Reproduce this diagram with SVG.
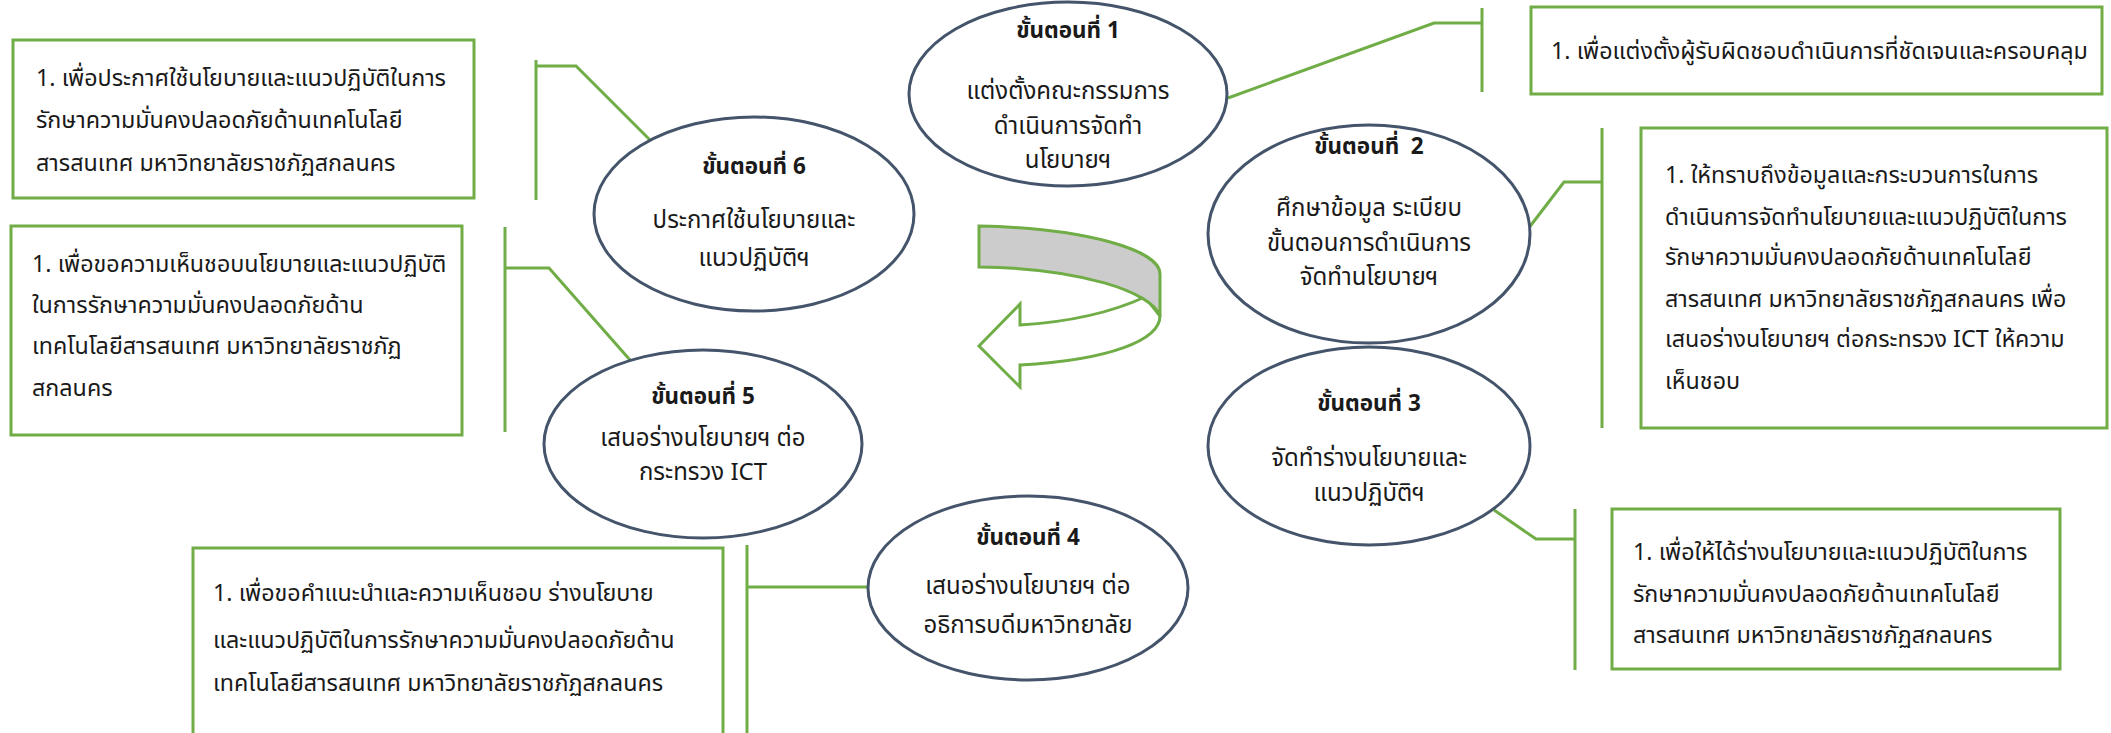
<svg xmlns="http://www.w3.org/2000/svg" width="2111" height="733" viewBox="0 0 2111 733">
<style>
.box{fill:#fff;stroke:#70AD47;stroke-width:3}
.con{fill:none;stroke:#70AD47;stroke-width:3}
.ell{fill:#fff;stroke:#44546A;stroke-width:3}
.t{font-family:"Noto Sans Thai","Noto Sans","DejaVu Sans",sans-serif;font-size:23.3px;fill:#1a1a1a}
.c{text-anchor:middle;font-size:24px}
.b{font-weight:bold;font-size:22.5px}
</style>
<rect width="2111" height="733" fill="#fff"/>
<g id="connectors">
<polyline class="con" points="1228,98 1434,23 1482,23"/>
<line class="con" x1="1482" y1="8" x2="1482" y2="92"/>
<polyline class="con" points="1528,229 1564,182 1602,182"/>
<line class="con" x1="1602" y1="128" x2="1602" y2="428"/>
<polyline class="con" points="1494,510 1536,539 1575,539"/>
<line class="con" x1="1575" y1="509" x2="1575" y2="670"/>
<line class="con" x1="868" y1="587" x2="747" y2="587"/>
<line class="con" x1="747" y1="545" x2="747" y2="733"/>
<polyline class="con" points="630,360 549,268 505,268"/>
<line class="con" x1="505" y1="227" x2="505" y2="432"/>
<polyline class="con" points="650,140 576,66 536,66"/>
<line class="con" x1="536" y1="60" x2="536" y2="200"/>
</g>
<g id="cycle-arrow">
<path d="M1145,297 C1110,313 1070,322 1020,325 L1020,304 L979,346 L1020,387 L1020,365 C1110,360 1160,340 1160,316 Z" fill="#fff" stroke="#70AD47" stroke-width="3" stroke-linejoin="miter"/>
<path d="M979,226 C1085,228 1160,250 1160,274 L1160,316 C1152,292 1080,268 979,267 Z" fill="#CCCCCC" stroke="#70AD47" stroke-width="3"/>
</g>
<g id="step1">
<ellipse class="ell" cx="1068" cy="94" rx="159" ry="92"/>
<text class="t c b" x="1068" y="38">ขั้นตอนที่ 1</text>
<text class="t c" x="1068" y="99">แต่งตั้งคณะกรรมการ</text>
<text class="t c" x="1068" y="134">ดำเนินการจัดทำ</text>
<text class="t c" x="1068" y="168">นโยบายฯ</text>
</g>
<g id="step2">
<ellipse class="ell" cx="1369" cy="234" rx="161" ry="109"/>
<text class="t c b" x="1369" y="154" xml:space="preserve">ขั้นตอนที่  2</text>
<text class="t c" x="1369" y="216">ศึกษาข้อมูล ระเบียบ</text>
<text class="t c" x="1369" y="251">ขั้นตอนการดำเนินการ</text>
<text class="t c" x="1369" y="285">จัดทำนโยบายฯ</text>
</g>
<g id="step3">
<ellipse class="ell" cx="1369" cy="446" rx="161" ry="99"/>
<text class="t c b" x="1369" y="411">ขั้นตอนที่ 3</text>
<text class="t c" x="1369" y="466">จัดทำร่างนโยบายและ</text>
<text class="t c" x="1369" y="501">แนวปฏิบัติฯ</text>
</g>
<g id="step4">
<ellipse class="ell" cx="1028" cy="588" rx="160" ry="92"/>
<text class="t c b" x="1028" y="545">ขั้นตอนที่ 4</text>
<text class="t c" x="1028" y="594">เสนอร่างนโยบายฯ ต่อ</text>
<text class="t c" x="1028" y="633">อธิการบดีมหาวิทยาลัย</text>
</g>
<g id="step5">
<ellipse class="ell" cx="703" cy="444" rx="159" ry="94"/>
<text class="t c b" x="703" y="404">ขั้นตอนที่ 5</text>
<text class="t c" x="703" y="446">เสนอร่างนโยบายฯ ต่อ</text>
<text class="t c" x="703" y="480">กระทรวง ICT</text>
</g>
<g id="step6">
<ellipse class="ell" cx="754" cy="214" rx="160" ry="97"/>
<text class="t c b" x="754" y="174">ขั้นตอนที่ 6</text>
<text class="t c" x="754" y="228">ประกาศใช้นโยบายและ</text>
<text class="t c" x="754" y="266">แนวปฏิบัติฯ</text>
</g>
<g id="note1">
<rect class="box" x="1531" y="7" width="571" height="87"/>
<text class="t" x="1551" y="59">1. เพื่อแต่งตั้งผู้รับผิดชอบดำเนินการที่ชัดเจนและครอบคลุม</text>
</g>
<g id="note2">
<rect class="box" x="1641" y="128" width="466" height="300"/>
<text class="t" x="1665" y="183">1. ให้ทราบถึงข้อมูลและกระบวนการในการ</text>
<text class="t" x="1665" y="225">ดำเนินการจัดทำนโยบายและแนวปฏิบัติในการ</text>
<text class="t" x="1665" y="265">รักษาความมั่นคงปลอดภัยด้านเทคโนโลยี</text>
<text class="t" x="1665" y="307">สารสนเทศ มหาวิทยาลัยราชภัฏสกลนคร เพื่อ</text>
<text class="t" x="1665" y="347">เสนอร่างนโยบายฯ ต่อกระทรวง ICT ให้ความ</text>
<text class="t" x="1665" y="389">เห็นชอบ</text>
</g>
<g id="note3">
<rect class="box" x="1612" y="509" width="448" height="160"/>
<text class="t" x="1633" y="560">1. เพื่อให้ได้ร่างนโยบายและแนวปฏิบัติในการ</text>
<text class="t" x="1633" y="602">รักษาความมั่นคงปลอดภัยด้านเทคโนโลยี</text>
<text class="t" x="1633" y="643">สารสนเทศ มหาวิทยาลัยราชภัฏสกลนคร</text>
</g>
<g id="note4">
<rect class="box" x="193" y="548" width="530" height="200"/>
<text class="t" x="213" y="601">1. เพื่อขอคำแนะนำและความเห็นชอบ ร่างนโยบาย</text>
<text class="t" x="213" y="648">และแนวปฏิบัติในการรักษาความมั่นคงปลอดภัยด้าน</text>
<text class="t" x="213" y="691">เทคโนโลยีสารสนเทศ มหาวิทยาลัยราชภัฏสกลนคร</text>
</g>
<g id="note5">
<rect class="box" x="11" y="226" width="451" height="209"/>
<text class="t" x="32" y="272">1. เพื่อขอความเห็นชอบนโยบายและแนวปฏิบัติ</text>
<text class="t" x="32" y="313">ในการรักษาความมั่นคงปลอดภัยด้าน</text>
<text class="t" x="32" y="354">เทคโนโลยีสารสนเทศ มหาวิทยาลัยราชภัฏ</text>
<text class="t" x="32" y="396">สกลนคร</text>
</g>
<g id="note6">
<rect class="box" x="13" y="40" width="461" height="158"/>
<text class="t" x="36" y="86">1. เพื่อประกาศใช้นโยบายและแนวปฏิบัติในการ</text>
<text class="t" x="36" y="128">รักษาความมั่นคงปลอดภัยด้านเทคโนโลยี</text>
<text class="t" x="36" y="171">สารสนเทศ มหาวิทยาลัยราชภัฏสกลนคร</text>
</g>
</svg>
